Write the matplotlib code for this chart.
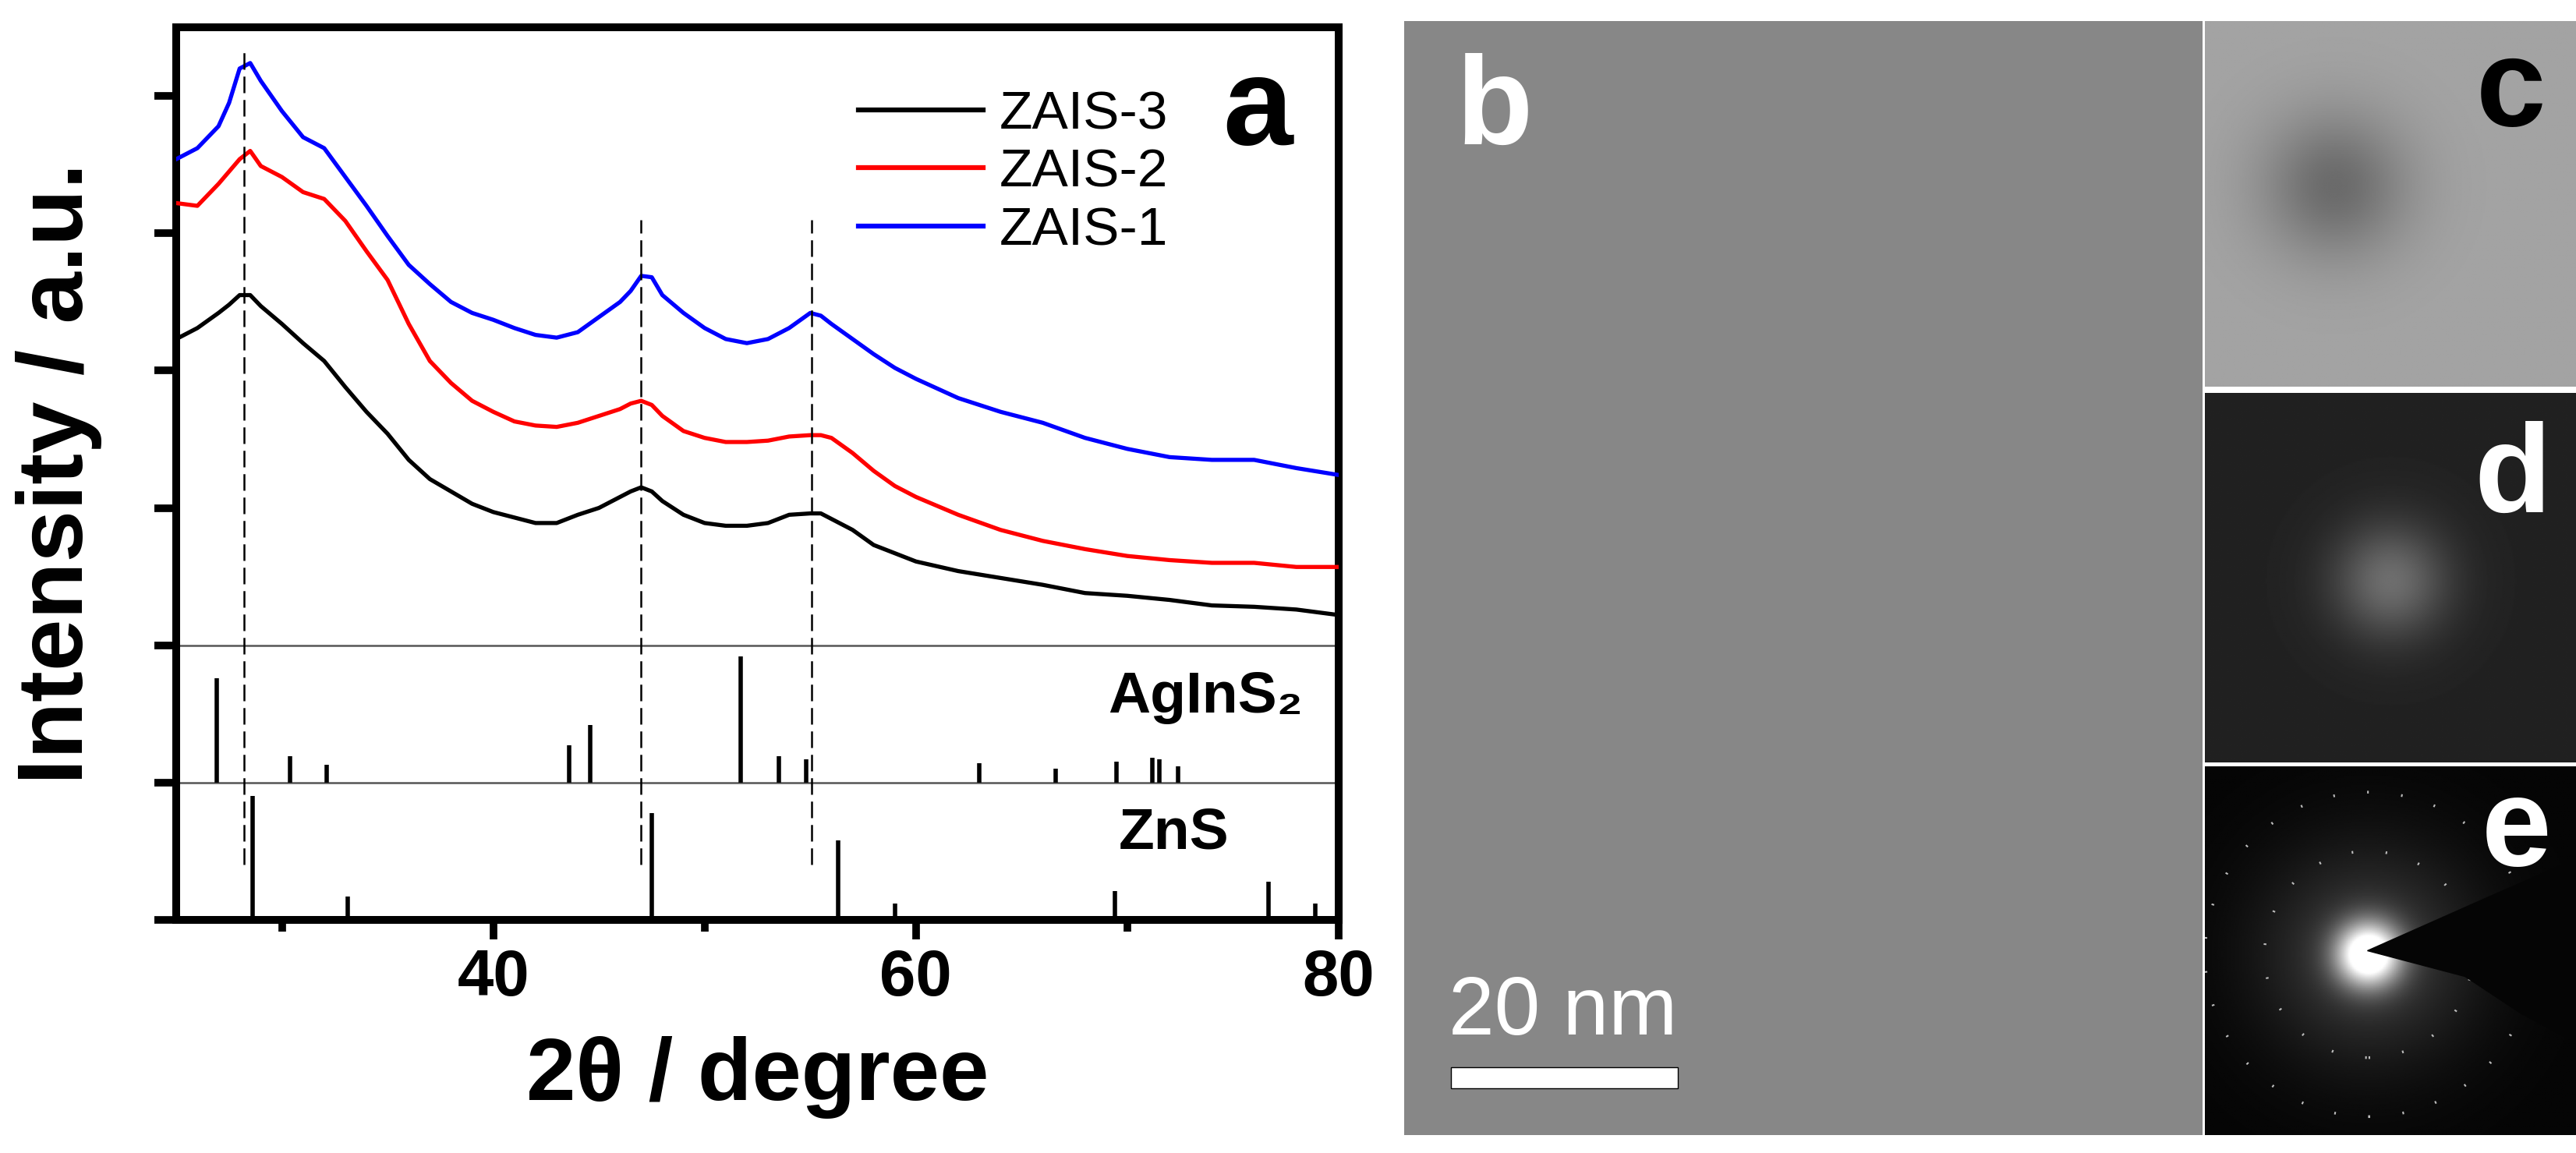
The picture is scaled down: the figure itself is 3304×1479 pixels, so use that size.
import matplotlib.pyplot as plt
import numpy as np
from matplotlib.patches import Circle, Polygon, Rectangle

plt.rcParams['font.family'] = ['Liberation Sans', 'DejaVu Sans']

# XRD patterns (2theta in degree, stacked intensity in a.u.)
two_theta = [25, 26, 27, 27.5, 28, 28.5, 29, 30, 31, 32, 33, 34, 35, 36, 37, 38, 39,
             40, 41, 42, 43, 44, 45, 46, 46.5, 47, 47.5, 48, 49, 50, 51, 52, 53, 54,
             55, 55.5, 56, 57, 58, 59, 60, 62, 64, 66, 68, 70, 72, 74, 76, 78, 80]
zais1 = [5.54, 5.62, 5.78, 5.95, 6.20, 6.24, 6.11, 5.89, 5.70, 5.62, 5.41, 5.20, 4.98,
         4.77, 4.63, 4.50, 4.42, 4.37, 4.31, 4.26, 4.24, 4.28, 4.39, 4.50, 4.58, 4.69,
         4.68, 4.55, 4.42, 4.31, 4.23, 4.20, 4.23, 4.31, 4.42, 4.40, 4.34, 4.23, 4.12,
         4.02, 3.94, 3.80, 3.70, 3.62, 3.51, 3.43, 3.37, 3.35, 3.35, 3.29, 3.24]
zais2 = [5.22, 5.20, 5.36, 5.45, 5.54, 5.60, 5.49, 5.41, 5.30, 5.25, 5.09, 4.87, 4.66,
         4.34, 4.07, 3.91, 3.78, 3.70, 3.63, 3.60, 3.59, 3.62, 3.67, 3.72, 3.76, 3.78,
         3.75, 3.67, 3.56, 3.51, 3.48, 3.48, 3.49, 3.52, 3.53, 3.53, 3.51, 3.40, 3.27,
         3.16, 3.08, 2.95, 2.84, 2.76, 2.70, 2.65, 2.62, 2.60, 2.60, 2.57, 2.57]
zais3 = [4.23, 4.31, 4.42, 4.48, 4.55, 4.55, 4.47, 4.34, 4.20, 4.07, 3.88, 3.70, 3.54,
         3.35, 3.21, 3.12, 3.03, 2.97, 2.93, 2.89, 2.89, 2.95, 3.00, 3.08, 3.12, 3.15,
         3.12, 3.05, 2.95, 2.89, 2.87, 2.87, 2.89, 2.95, 2.96, 2.96, 2.92, 2.84, 2.73,
         2.67, 2.61, 2.54, 2.49, 2.44, 2.38, 2.36, 2.33, 2.29, 2.28, 2.26, 2.22]

# reference stick patterns
agins2_pos = [26.9, 30.4, 32.1, 43.6, 44.6, 51.7, 53.5, 54.8, 63.0, 66.6, 69.5, 71.2, 71.5, 72.4]
agins2_int = [0.76, 0.19, 0.13, 0.27, 0.42, 0.92, 0.19, 0.17, 0.14, 0.10, 0.15, 0.18, 0.17, 0.12]
zns_pos = [28.6, 33.1, 47.5, 56.3, 59.0, 69.4, 76.7, 78.9]
zns_int = [0.90, 0.17, 0.78, 0.58, 0.12, 0.21, 0.28, 0.12]
agins2_base = 1.0
zns_base = 0.0

# dashed guide lines
guide_pos = [28.2, 47.0, 55.05]
guide_top = [6.36, 5.10, 5.10]
guide_bottom = 0.40

fig = plt.figure(figsize=(33.05, 14.79), dpi=100)

# ---- panel a: XRD ----
ax = fig.add_axes([0.0684, 0.2022, 0.4511, 0.7741])
ax.plot(two_theta, zais3, color='black', lw=3.8, label='ZAIS-3', zorder=3)
ax.plot(two_theta, zais2, color='red', lw=3.8, label='ZAIS-2', zorder=3)
ax.plot(two_theta, zais1, color='blue', lw=3.8, label='ZAIS-1', zorder=3)

ax.axhline(agins2_base + 1, color='#555555', lw=1.8, zorder=2)
ax.axhline(agins2_base, color='#555555', lw=1.8, zorder=2)
ax.vlines(agins2_pos, agins2_base, np.array(agins2_int) + agins2_base, color='black', lw=4)
ax.vlines(zns_pos, zns_base, np.array(zns_int) + zns_base, color='black', lw=4)

for p, t in zip(guide_pos, guide_top):
    ax.plot([p, p], [guide_bottom, t], color='black', lw=1.8,
            linestyle=(0, (8.5, 3.5)), zorder=4)

ax.text(69.1, 1.51, 'AgInS₂', fontsize=54, fontweight='bold')
ax.text(69.6, 0.52, 'ZnS', fontsize=54, fontweight='bold')
ax.text(0.900, 0.869, 'a', transform=ax.transAxes, fontsize=116, fontweight='bold',
        va='baseline')

ax.set_xlim(25, 80)
ax.set_ylim(0, 6.5)
ax.set_xticks([40, 60, 80])
ax.set_xticks([30, 50, 70], minor=True)
ax.set_yticks(range(7))
ax.set_yticklabels([])
ax.tick_params(axis='x', which='major', length=18, width=7, pad=8, labelsize=60)
ax.tick_params(axis='x', which='minor', length=11, width=7)
ax.tick_params(axis='y', which='major', length=20, width=7)
for lab in ax.get_xticklabels():
    lab.set_fontweight('bold')
for s in ax.spines.values():
    s.set_linewidth(7.2)

ax.set_xlabel('2θ / degree', fontsize=82, fontweight='bold')
ax.xaxis.set_label_coords(0.5, -0.13)
ax.set_ylabel('Intensity / a.u.', fontsize=86, fontweight='bold')
ax.yaxis.set_label_coords(-0.064, 0.5)

h, l = ax.get_legend_handles_labels()
leg = ax.legend(h, l, loc='upper left', bbox_to_anchor=(0.587, 0.93), frameon=False,
                fontsize=50, handlelength=2.3, handletextpad=0.3, labelspacing=0.15,
                borderpad=0, borderaxespad=0)
for line in leg.get_lines():
    line.set_linewidth(4.5)


def image_panel(rect, color):
    a = fig.add_axes(rect)
    a.set_facecolor(color)
    a.set_xlim(0, 1)
    a.set_ylim(0, 1)
    a.set_xticks([])
    a.set_yticks([])
    for s in a.spines.values():
        s.set_visible(False)
    return a


grid = np.linspace(0, 1, 300)
gx, gy = np.meshgrid(grid, grid)

# ---- panel b: TEM overview ----
pb = image_panel([0.5449, 0.01555, 0.3098, 0.9662], '#878787')
pb.add_patch(Rectangle((0.0586, 0.042), 0.284, 0.019, facecolor='white',
                       edgecolor='black', lw=1))
pb.text(0.056, 0.090, '20 nm', color='white', fontsize=76)
fig.text(0.565, 0.875, 'b', color='white', fontsize=116, fontweight='bold')

# ---- panel c: HRTEM ----
pc = image_panel([0.8557, 0.6646, 0.1443, 0.3171], '#a4a4a4')
r2 = (gx - 0.35) ** 2 + (gy - 0.55) ** 2
pc.imshow(0.64 - 0.22 * np.exp(-r2 / (2 * 0.14 ** 2)), cmap='gray', vmin=0, vmax=1,
          extent=(0, 1, 0, 1), origin='lower', aspect='auto')
fig.text(0.988, 0.891, 'c', color='black', fontsize=116, fontweight='bold', ha='right')

# ---- panel d: FFT ----
pd_ = image_panel([0.8557, 0.3387, 0.1443, 0.3205], '#202020')
r2 = (gx - 0.5) ** 2 + (gy - 0.49) ** 2
pd_.imshow(0.13 + 0.30 * np.exp(-r2 / (2 * 0.11 ** 2)), cmap='gray', vmin=0, vmax=1,
           extent=(0, 1, 0, 1), origin='lower', aspect='auto')
fig.text(0.99, 0.556, 'd', color='white', fontsize=116, fontweight='bold', ha='right')

# ---- panel e: SAED ----
pe = image_panel([0.8557, 0.01555, 0.1443, 0.3198], 'black')
r2 = (gx - 0.44) ** 2 + (gy - 0.49) ** 2
glow = 0.02 + 1.1 * np.exp(-r2 / (2 * 0.06 ** 2)) + 0.22 * np.exp(-r2 / (2 * 0.2 ** 2))
pe.imshow(np.clip(glow, 0, 1), cmap='gray', vmin=0, vmax=1,
          extent=(0, 1, 0, 1), origin='lower', aspect='auto')
for rad in [0.28, 0.44]:
    pe.add_patch(Circle((0.44, 0.49), rad, fill=False, edgecolor='#bdbdbd', lw=2.5,
                        linestyle=(0, (0.6, 12))))
pe.add_patch(Polygon([(0.437, 0.50), (0.75, 0.64), (1.0, 0.75), (1.0, 0.25),
                      (0.85, 0.33), (0.7, 0.43)], closed=True, color='#050505'))
fig.text(0.99, 0.2495, 'e', color='white', fontsize=116, fontweight='bold', ha='right')

fig.savefig('out.png', dpi=100)
